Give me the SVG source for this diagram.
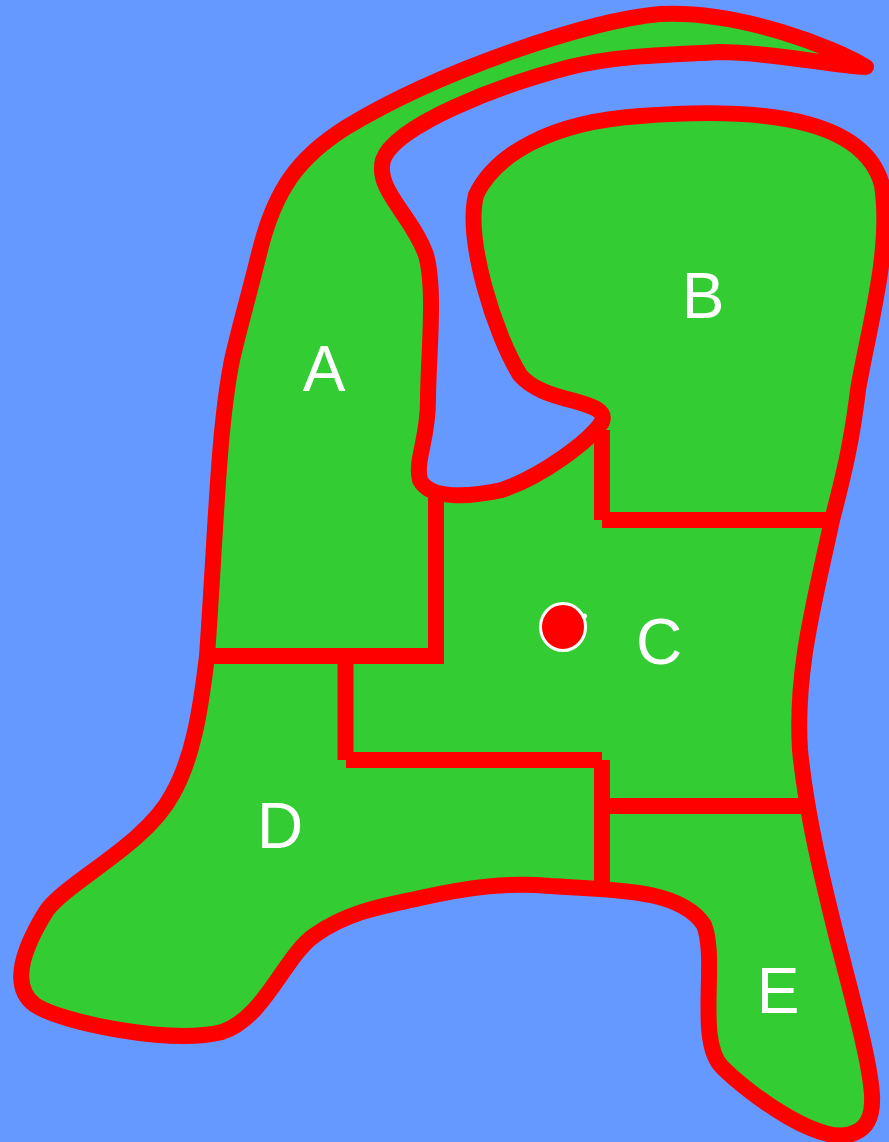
<svg xmlns="http://www.w3.org/2000/svg" width="889" height="1142" viewBox="0 0 889 1142">
<style>
.o{fill:#3c3;stroke:#f00;stroke-width:16;stroke-linejoin:round;stroke-linecap:round}
.l{fill:none;stroke:#f00;stroke-width:16}
text{font-family:"Liberation Sans",Arial,sans-serif;font-size:64px;fill:#fff;text-anchor:middle}
</style>
<rect width="889" height="1142" fill="#69f"/>
<g id="land">
<path class="o" d="M866 67C835 48 740 10 660 14C590 20 440 70 345 128C298 158 275 190 260 250S240 325 232 360C218 430 216 530 207 656C200 715 192 760 172 795C145 845 70 880 47 910C25 945 8 985 35 1005C60 1022 170 1045 222 1032C265 1018 285 955 315 935C350 910 390 905 420 898C470 887 510 882 550 886C610 890 680 888 704 925C718 960 696 1040 722 1067C750 1095 825 1150 856 1132C868 1127 873 1115 872 1095C870 1060 850 990 835 930C820 870 806 810 800 750C795 670 815 600 832 520C845 470 852 440 858 390C868 330 892 250 882 185C866 125 780 105 640 116C550 122 495 155 476 195C465 240 495 335 520 375C545 405 610 398 602 422C590 440 545 475 502 490C470 497 430 500 420 480C415 460 428 440 428 400C428 360 436 290 426 255C412 215 375 190 383 160C395 125 500 85 570 67C620 55 670 55 720 52C770 52 835 66 866 67Z"/>
</g>
<g id="connectors">
<path class="l" d="M436 490V656H208"/>
<path class="l" d="M345.500 648V760"/>
<path class="l" d="M346 760H602"/>
<path class="l" d="M602 760V886"/>
<path class="l" d="M602 806H804"/>
<path class="l" d="M602 430V520"/>
<path class="l" d="M602 520H830"/>
</g>
<g id="marker"><ellipse cx="563" cy="627" rx="22.500" ry="23.500" fill="#f00" stroke="#fff" stroke-width="3"/><circle cx="584.500" cy="616" r="2.500" fill="#fff"/></g>
<g id="A"><text x="324" y="391">A</text></g>
<g id="B"><text x="703" y="318">B</text></g>
<g id="C"><text x="659" y="664">C</text></g>
<g id="D"><text x="280" y="848">D</text></g>
<g id="E"><text x="778" y="1013">E</text></g>
</svg>
